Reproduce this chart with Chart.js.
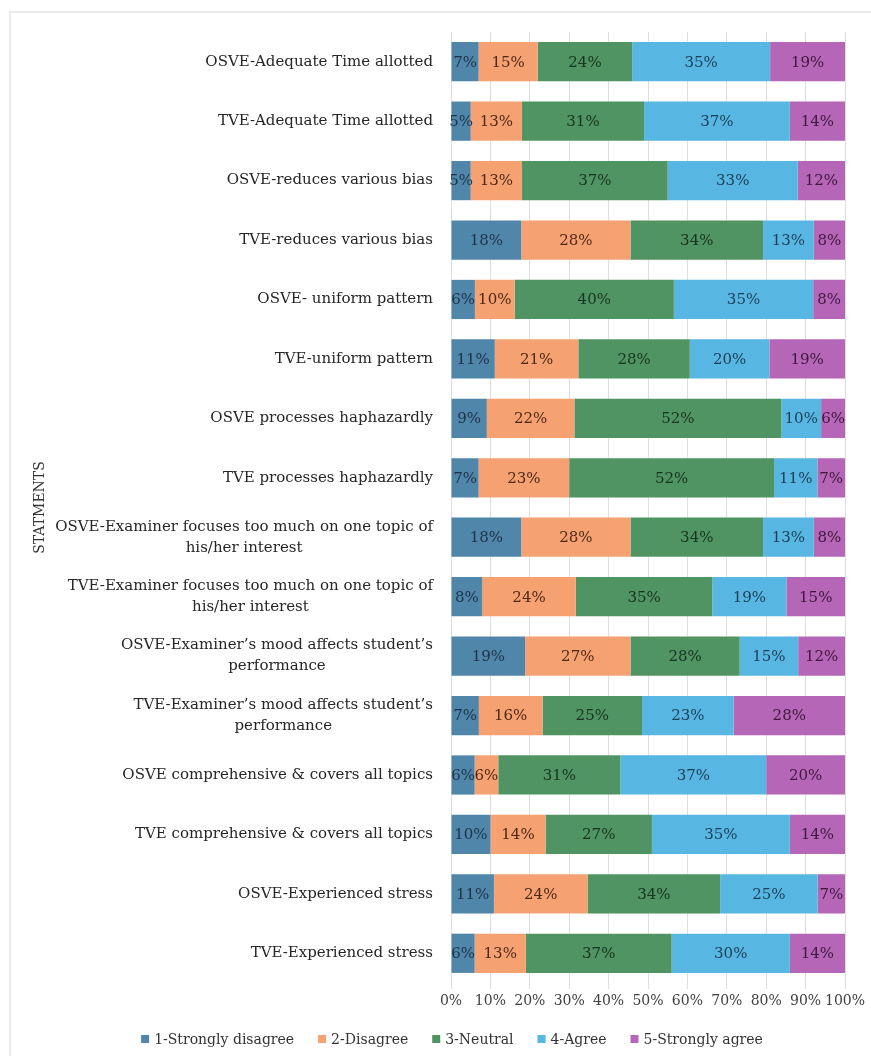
<!DOCTYPE html>
<html>
<head>
<meta charset="utf-8">
<title>OSVE vs TVE statements</title>
<script src="https://cdn.jsdelivr.net/npm/chart.js@4/dist/chart.umd.min.js"></script>
<style>
  html, body { margin: 0; padding: 0; background: #ffffff; }
  #wrap { position: relative; width: 871px; height: 1056px; }
  canvas { display: block; }
</style>
</head>
<body>
<div id="wrap"><canvas id="chart" width="871" height="1056"></canvas></div>
<script>
// Statements (top to bottom)
const categories = [
  'OSVE-Adequate Time allotted',
  'TVE-Adequate Time allotted',
  'OSVE-reduces various bias',
  'TVE-reduces various bias',
  'OSVE- uniform pattern',
  'TVE-uniform pattern',
  'OSVE processes haphazardly',
  'TVE processes haphazardly',
  ['OSVE-Examiner focuses too much on one topic of', 'his/her interest'],
  ['TVE-Examiner focuses too much on one topic of', 'his/her interest'],
  ['OSVE-Examiner\u2019s mood affects student\u2019s', 'performance'],
  ['TVE-Examiner\u2019s mood affects student\u2019s', 'performance'],
  'OSVE comprehensive & covers all topics',
  'TVE comprehensive & covers all topics',
  'OSVE-Experienced stress',
  'TVE-Experienced stress'
];

// Response shares (%) per statement
const stronglyDisagree = [7, 5, 5, 18, 6, 11, 9, 7, 18, 8, 19, 7, 6, 10, 11, 6];
const disagree         = [15, 13, 13, 28, 10, 21, 22, 23, 28, 24, 27, 16, 6, 14, 24, 13];
const neutral          = [24, 31, 37, 34, 40, 28, 52, 52, 34, 35, 28, 25, 31, 27, 34, 37];
const agree            = [35, 37, 33, 13, 35, 20, 10, 11, 13, 19, 15, 23, 37, 35, 25, 30];
const stronglyAgree    = [19, 14, 12, 8, 8, 19, 6, 7, 8, 15, 12, 28, 20, 14, 7, 14];

const seriesNames = ['1-Strongly disagree', '2-Disagree', '3-Neutral', '4-Agree', '5-Strongly agree'];
const xTickValues = [0, 10, 20, 30, 40, 50, 60, 70, 80, 90, 100];
const axisTitle = 'STATMENTS';

const barColors   = ['#4f86a9', '#f5a172', '#4f9462', '#58b7e2', '#b566b6'];
const labelColors = ['#1e3348', '#4d2914', '#173420', '#1b3d57', '#3f173f'];
const FONT = '"DejaVu Serif", "Liberation Serif", serif';

const seriesValues = [stronglyDisagree, disagree, neutral, agree, stronglyAgree];

// 100% stacked: each row is scaled to its own total; labels keep the stated shares
const rowTotals = categories.map((_, i) => seriesValues.reduce((s, arr) => s + arr[i], 0));

const datasets = seriesNames.map((name, si) => ({
  label: name,
  data: seriesValues[si].map((v, i) => v / rowTotals[i] * 100),
  shares: seriesValues[si],
  backgroundColor: barColors[si],
  borderWidth: 0,
  barPercentage: 0.66,
  categoryPercentage: 1.0
}));

// Frame, category labels, axis title, segment values and legend
const decorations = {
  id: 'decorations',
  beforeDraw(chart) {
    const ctx = chart.ctx;
    ctx.save();
    ctx.fillStyle = '#ffffff';
    ctx.fillRect(0, 0, chart.width, chart.height);
    ctx.strokeStyle = '#ebebeb';
    ctx.lineWidth = 2;
    ctx.beginPath();
    ctx.moveTo(10, chart.height);
    ctx.lineTo(10, 12);
    ctx.lineTo(chart.width, 12);
    ctx.stroke();
    ctx.restore();
  },
  afterDatasetsDraw(chart) {
    const ctx = chart.ctx;
    ctx.save();
    ctx.font = '15px ' + FONT;
    ctx.textAlign = 'center';
    ctx.textBaseline = 'middle';
    chart.data.datasets.forEach((ds, di) => {
      const meta = chart.getDatasetMeta(di);
      meta.data.forEach((el, i) => {
        const cx = (el.x + el.base) / 2;
        ctx.fillStyle = labelColors[di];
        ctx.fillText(ds.shares[i] + '%', cx, el.y + 1);
      });
    });
    ctx.restore();
  },
  afterDraw(chart) {
    const ctx = chart.ctx;
    const area = chart.chartArea;
    const yScale = chart.scales.y;
    ctx.save();

    // category labels: block right-aligned, lines centered within block
    ctx.font = '15px ' + FONT;
    ctx.fillStyle = '#262626';
    ctx.textBaseline = 'middle';
    ctx.textAlign = 'center';
    const lineH = 21;
    chart.data.labels.forEach((lab, i) => {
      const lines = Array.isArray(lab) ? lab : [lab];
      const w = Math.max(...lines.map(l => ctx.measureText(l).width));
      const right = area.left - 18;
      const cx = right - w / 2;
      const yc = yScale.getPixelForTick(i);
      const y0 = yc - (lines.length - 1) * lineH / 2;
      lines.forEach((l, k) => ctx.fillText(l, cx, y0 + k * lineH));
    });

    // axis title
    ctx.save();
    ctx.translate(40, (area.top + area.bottom) / 2);
    ctx.rotate(-Math.PI / 2);
    ctx.font = '14px ' + FONT;
    ctx.fillStyle = '#333333';
    ctx.fillText(axisTitle, 0, 0);
    ctx.restore();

    // legend
    ctx.font = '14px ' + FONT;
    ctx.textAlign = 'left';
    const box = 8, gapText = 5, gapItem = 24;
    const widths = chart.data.datasets.map(ds => box + gapText + ctx.measureText(ds.label).width);
    const total = widths.reduce((a, b) => a + b, 0) + gapItem * (widths.length - 1);
    let x = 452 - total / 2;
    const ly = 1040;
    chart.data.datasets.forEach((ds, di) => {
      ctx.fillStyle = barColors[di];
      ctx.fillRect(x, ly - box / 2 - 1, box, box);
      ctx.fillStyle = '#333333';
      ctx.fillText(ds.label, x + box + gapText, ly);
      x += widths[di] + gapItem;
    });
    ctx.restore();
  }
};

new Chart(document.getElementById('chart'), {
  type: 'bar',
  data: { labels: categories, datasets },
  options: {
    indexAxis: 'y',
    responsive: false,
    animation: false,
    devicePixelRatio: 1,
    layout: { padding: { left: 451, right: 26, top: 32, bottom: 43 } },
    plugins: {
      legend: { display: false },
      tooltip: { enabled: false },
      title: { display: false }
    },
    scales: {
      x: {
        stacked: true,
        min: 0,
        max: 100,
        afterFit(scale) { scale.height = 30; },
        afterBuildTicks(scale) { scale.ticks = xTickValues.map(v => ({ value: v })); },
        grid: { color: '#dedede', lineWidth: 1, tickLength: 6, drawTicks: true },
        border: { display: false },
        ticks: {
          padding: 4,
          autoSkip: false,
          maxRotation: 0,
          minRotation: 0,
          color: '#404040',
          font: { family: FONT, size: 14 },
          callback: v => v + '%'
        }
      },
      y: {
        stacked: true,
        afterFit(scale) { scale.width = 0; },
        grid: { display: false },
        border: { display: false },
        ticks: { display: false }
      }
    }
  },
  plugins: [decorations]
});
</script>
</body>
</html>
